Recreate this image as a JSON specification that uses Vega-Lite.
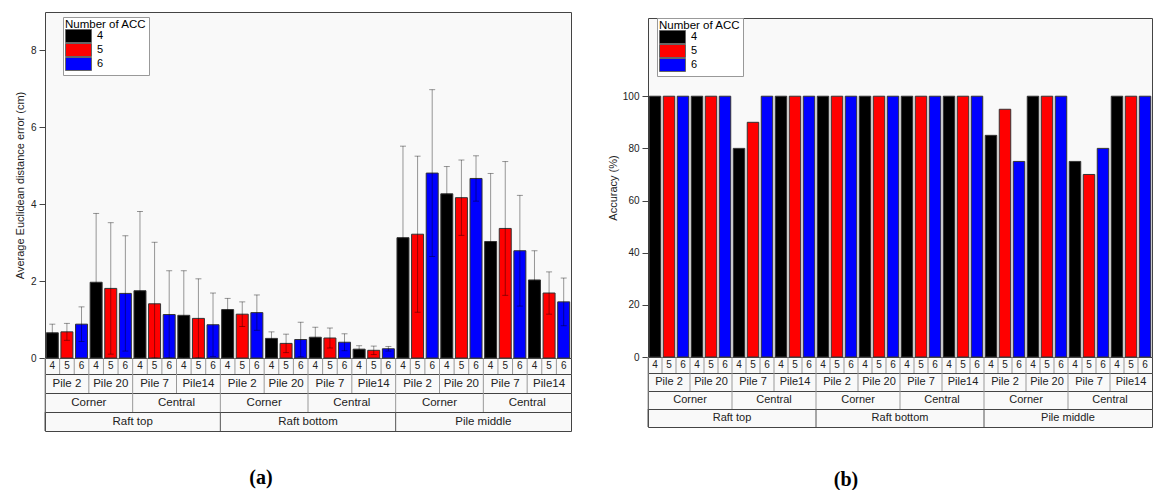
{
  "$schema": "https://vega.github.io/schema/vega-lite/v6.json",
  "padding": {"left": 13, "top": 9, "right": 0, "bottom": 0},
  "background": "#ffffff",
  "datasets": {
    "a": [
      {"n": 1, "group": "Raft top", "pos": "Corner", "pile": "Pile 2", "acc": 4, "mean": 0.655, "sd": 0.225},
      {"n": 2, "group": "Raft top", "pos": "Corner", "pile": "Pile 2", "acc": 5, "mean": 0.68, "sd": 0.22},
      {"n": 3, "group": "Raft top", "pos": "Corner", "pile": "Pile 2", "acc": 6, "mean": 0.88, "sd": 0.45},
      {"n": 4, "group": "Raft top", "pos": "Corner", "pile": "Pile 20", "acc": 4, "mean": 1.97, "sd": 1.79},
      {"n": 5, "group": "Raft top", "pos": "Corner", "pile": "Pile 20", "acc": 5, "mean": 1.81, "sd": 1.71},
      {"n": 6, "group": "Raft top", "pos": "Corner", "pile": "Pile 20", "acc": 6, "mean": 1.68, "sd": 1.5},
      {"n": 7, "group": "Raft top", "pos": "Central", "pile": "Pile 7", "acc": 4, "mean": 1.75, "sd": 2.06},
      {"n": 8, "group": "Raft top", "pos": "Central", "pile": "Pile 7", "acc": 5, "mean": 1.41, "sd": 1.6},
      {"n": 9, "group": "Raft top", "pos": "Central", "pile": "Pile 7", "acc": 6, "mean": 1.13, "sd": 1.14},
      {"n": 10, "group": "Raft top", "pos": "Central", "pile": "Pile14", "acc": 4, "mean": 1.11, "sd": 1.16},
      {"n": 11, "group": "Raft top", "pos": "Central", "pile": "Pile14", "acc": 5, "mean": 1.03, "sd": 1.03},
      {"n": 12, "group": "Raft top", "pos": "Central", "pile": "Pile14", "acc": 6, "mean": 0.865, "sd": 0.825},
      {"n": 13, "group": "Raft bottom", "pos": "Corner", "pile": "Pile 2", "acc": 4, "mean": 1.26, "sd": 0.29},
      {"n": 14, "group": "Raft bottom", "pos": "Corner", "pile": "Pile 2", "acc": 5, "mean": 1.14, "sd": 0.32},
      {"n": 15, "group": "Raft bottom", "pos": "Corner", "pile": "Pile 2", "acc": 6, "mean": 1.18, "sd": 0.46},
      {"n": 16, "group": "Raft bottom", "pos": "Corner", "pile": "Pile 20", "acc": 4, "mean": 0.51, "sd": 0.17},
      {"n": 17, "group": "Raft bottom", "pos": "Corner", "pile": "Pile 20", "acc": 5, "mean": 0.38, "sd": 0.24},
      {"n": 18, "group": "Raft bottom", "pos": "Corner", "pile": "Pile 20", "acc": 6, "mean": 0.48, "sd": 0.45},
      {"n": 19, "group": "Raft bottom", "pos": "Central", "pile": "Pile 7", "acc": 4, "mean": 0.54, "sd": 0.26},
      {"n": 20, "group": "Raft bottom", "pos": "Central", "pile": "Pile 7", "acc": 5, "mean": 0.52, "sd": 0.26},
      {"n": 21, "group": "Raft bottom", "pos": "Central", "pile": "Pile 7", "acc": 6, "mean": 0.41, "sd": 0.22},
      {"n": 22, "group": "Raft bottom", "pos": "Central", "pile": "Pile14", "acc": 4, "mean": 0.23, "sd": 0.09},
      {"n": 23, "group": "Raft bottom", "pos": "Central", "pile": "Pile14", "acc": 5, "mean": 0.2, "sd": 0.11},
      {"n": 24, "group": "Raft bottom", "pos": "Central", "pile": "Pile14", "acc": 6, "mean": 0.24, "sd": 0.06},
      {"n": 25, "group": "Pile middle", "pos": "Corner", "pile": "Pile 2", "acc": 4, "mean": 3.13, "sd": 2.38},
      {"n": 26, "group": "Pile middle", "pos": "Corner", "pile": "Pile 2", "acc": 5, "mean": 3.22, "sd": 2.03},
      {"n": 27, "group": "Pile middle", "pos": "Corner", "pile": "Pile 2", "acc": 6, "mean": 4.81, "sd": 2.17},
      {"n": 28, "group": "Pile middle", "pos": "Corner", "pile": "Pile 20", "acc": 4, "mean": 4.27, "sd": 0.71},
      {"n": 29, "group": "Pile middle", "pos": "Corner", "pile": "Pile 20", "acc": 5, "mean": 4.17, "sd": 0.98},
      {"n": 30, "group": "Pile middle", "pos": "Corner", "pile": "Pile 20", "acc": 6, "mean": 4.67, "sd": 0.59},
      {"n": 31, "group": "Pile middle", "pos": "Central", "pile": "Pile 7", "acc": 4, "mean": 3.03, "sd": 1.77},
      {"n": 32, "group": "Pile middle", "pos": "Central", "pile": "Pile 7", "acc": 5, "mean": 3.37, "sd": 1.74},
      {"n": 33, "group": "Pile middle", "pos": "Central", "pile": "Pile 7", "acc": 6, "mean": 2.79, "sd": 1.44},
      {"n": 34, "group": "Pile middle", "pos": "Central", "pile": "Pile14", "acc": 4, "mean": 2.03, "sd": 0.76},
      {"n": 35, "group": "Pile middle", "pos": "Central", "pile": "Pile14", "acc": 5, "mean": 1.69, "sd": 0.55},
      {"n": 36, "group": "Pile middle", "pos": "Central", "pile": "Pile14", "acc": 6, "mean": 1.46, "sd": 0.62}
    ],
    "b": [
      {"n": 1, "group": "Raft top", "pos": "Corner", "pile": "Pile 2", "acc": 4, "accuracy": 100},
      {"n": 2, "group": "Raft top", "pos": "Corner", "pile": "Pile 2", "acc": 5, "accuracy": 100},
      {"n": 3, "group": "Raft top", "pos": "Corner", "pile": "Pile 2", "acc": 6, "accuracy": 100},
      {"n": 4, "group": "Raft top", "pos": "Corner", "pile": "Pile 20", "acc": 4, "accuracy": 100},
      {"n": 5, "group": "Raft top", "pos": "Corner", "pile": "Pile 20", "acc": 5, "accuracy": 100},
      {"n": 6, "group": "Raft top", "pos": "Corner", "pile": "Pile 20", "acc": 6, "accuracy": 100},
      {"n": 7, "group": "Raft top", "pos": "Central", "pile": "Pile 7", "acc": 4, "accuracy": 80},
      {"n": 8, "group": "Raft top", "pos": "Central", "pile": "Pile 7", "acc": 5, "accuracy": 90},
      {"n": 9, "group": "Raft top", "pos": "Central", "pile": "Pile 7", "acc": 6, "accuracy": 100},
      {"n": 10, "group": "Raft top", "pos": "Central", "pile": "Pile14", "acc": 4, "accuracy": 100},
      {"n": 11, "group": "Raft top", "pos": "Central", "pile": "Pile14", "acc": 5, "accuracy": 100},
      {"n": 12, "group": "Raft top", "pos": "Central", "pile": "Pile14", "acc": 6, "accuracy": 100},
      {"n": 13, "group": "Raft bottom", "pos": "Corner", "pile": "Pile 2", "acc": 4, "accuracy": 100},
      {"n": 14, "group": "Raft bottom", "pos": "Corner", "pile": "Pile 2", "acc": 5, "accuracy": 100},
      {"n": 15, "group": "Raft bottom", "pos": "Corner", "pile": "Pile 2", "acc": 6, "accuracy": 100},
      {"n": 16, "group": "Raft bottom", "pos": "Corner", "pile": "Pile 20", "acc": 4, "accuracy": 100},
      {"n": 17, "group": "Raft bottom", "pos": "Corner", "pile": "Pile 20", "acc": 5, "accuracy": 100},
      {"n": 18, "group": "Raft bottom", "pos": "Corner", "pile": "Pile 20", "acc": 6, "accuracy": 100},
      {"n": 19, "group": "Raft bottom", "pos": "Central", "pile": "Pile 7", "acc": 4, "accuracy": 100},
      {"n": 20, "group": "Raft bottom", "pos": "Central", "pile": "Pile 7", "acc": 5, "accuracy": 100},
      {"n": 21, "group": "Raft bottom", "pos": "Central", "pile": "Pile 7", "acc": 6, "accuracy": 100},
      {"n": 22, "group": "Raft bottom", "pos": "Central", "pile": "Pile14", "acc": 4, "accuracy": 100},
      {"n": 23, "group": "Raft bottom", "pos": "Central", "pile": "Pile14", "acc": 5, "accuracy": 100},
      {"n": 24, "group": "Raft bottom", "pos": "Central", "pile": "Pile14", "acc": 6, "accuracy": 100},
      {"n": 25, "group": "Pile middle", "pos": "Corner", "pile": "Pile 2", "acc": 4, "accuracy": 85},
      {"n": 26, "group": "Pile middle", "pos": "Corner", "pile": "Pile 2", "acc": 5, "accuracy": 95},
      {"n": 27, "group": "Pile middle", "pos": "Corner", "pile": "Pile 2", "acc": 6, "accuracy": 75},
      {"n": 28, "group": "Pile middle", "pos": "Corner", "pile": "Pile 20", "acc": 4, "accuracy": 100},
      {"n": 29, "group": "Pile middle", "pos": "Corner", "pile": "Pile 20", "acc": 5, "accuracy": 100},
      {"n": 30, "group": "Pile middle", "pos": "Corner", "pile": "Pile 20", "acc": 6, "accuracy": 100},
      {"n": 31, "group": "Pile middle", "pos": "Central", "pile": "Pile 7", "acc": 4, "accuracy": 75},
      {"n": 32, "group": "Pile middle", "pos": "Central", "pile": "Pile 7", "acc": 5, "accuracy": 70},
      {"n": 33, "group": "Pile middle", "pos": "Central", "pile": "Pile 7", "acc": 6, "accuracy": 80},
      {"n": 34, "group": "Pile middle", "pos": "Central", "pile": "Pile14", "acc": 4, "accuracy": 100},
      {"n": 35, "group": "Pile middle", "pos": "Central", "pile": "Pile14", "acc": 5, "accuracy": 100},
      {"n": 36, "group": "Pile middle", "pos": "Central", "pile": "Pile14", "acc": 6, "accuracy": 100}
    ]
  },
  "hconcat": [
    {
      "spacing": 0,
      "bounds": "flush",
      "resolve": {"scale": {"x": "shared"}},
      "vconcat": [
        {
          "width": 526, "height": 346,
          "data": {"name": "a"},
          "encoding": {
            "x": {"field": "n", "type": "ordinal", "axis": null, "scale": {"paddingInner": 0, "paddingOuter": 0}},
            "y": {"field": "mean", "type": "quantitative", "stack": null,
                  "scale": {"domain": [0, 9], "nice": false, "clamp": true},
                  "axis": {"title": "Average Euclidean distance error (cm)", "values": [0, 2, 4, 6, 8], "grid": false, "domain": false,
                           "tickSize": 6, "tickColor": "#444", "labelFontSize": 10, "labelColor": "#222", "labelPadding": 3,
                           "titleFontSize": 11, "titleFontWeight": "normal", "titleColor": "#222", "titlePadding": 5}}
          },
          "layer": [
            {
              "mark": {"type": "bar", "width": {"band": 0.82}, "stroke": "#333", "strokeWidth": 1},
              "encoding": {
                "color": {"field": "acc", "type": "nominal",
                          "scale": {"domain": [4, 5, 6], "range": ["#000000", "#ff0000", "#0000ff"]},
                          "legend": {"title": "Number of ACC", "orient": "none", "legendX": 18, "legendY": 5,
                                     "symbolType": "M-1,-1.3H4.2V1.3H-1Z", "symbolSize": 100, "symbolStrokeColor": "#666", "symbolStrokeWidth": 1,
                                     "symbolOpacity": 1, "labelOffset": 21, "rowPadding": -5, "padding": 2, "strokeColor": "#999",
                                     "fillColor": "#ffffff", "titleFontSize": 11.5, "titleFontWeight": "normal", "titleColor": "#000",
                                     "labelFontSize": 11, "labelColor": "#000", "titlePadding": 0}}
              }
            },
            {
              "mark": {"type": "errorbar", "ticks": true, "size": 6, "thickness": 1, "color": "#000", "opacity": 0.4},
              "encoding": {"yError": {"field": "sd"}}
            }
          ]
        },
        {
          "width": 526, "height": 16, "data": {"name": "a"},
          "layer": [
            {"mark": {"type": "rule", "color": "#999", "strokeWidth": 1},
             "encoding": {"x": {"field": "n", "type": "ordinal", "bandPosition": 0, "axis": null}}},
            {"mark": {"type": "text", "fontSize": 10, "color": "#222"},
             "encoding": {"x": {"field": "n", "type": "ordinal", "axis": null}, "text": {"field": "acc", "type": "nominal"}}}
          ]
        },
        {
          "width": 526, "height": 19, "data": {"name": "a"},
          "layer": [
            {"transform": [{"filter": "datum.acc == 4"}],
             "mark": {"type": "rule", "color": "#999", "strokeWidth": 1},
             "encoding": {"x": {"field": "n", "type": "ordinal", "bandPosition": 0, "axis": null}}},
            {"transform": [{"filter": "datum.acc == 5"}],
             "mark": {"type": "text", "fontSize": 11.5, "color": "#222"},
             "encoding": {"x": {"field": "n", "type": "ordinal", "axis": null}, "text": {"field": "pile", "type": "nominal"}}}
          ]
        },
        {
          "width": 526, "height": 19, "data": {"name": "a"},
          "layer": [
            {"transform": [{"filter": "datum.acc == 4 && (datum.pile == 'Pile 2' || datum.pile == 'Pile 7')"}],
             "mark": {"type": "rule", "color": "#999", "strokeWidth": 1},
             "encoding": {"x": {"field": "n", "type": "ordinal", "bandPosition": 0, "axis": null}}},
            {"transform": [{"filter": "datum.acc == 4 && (datum.pile == 'Pile 20' || datum.pile == 'Pile14')"}],
             "mark": {"type": "text", "fontSize": 11.5, "color": "#222"},
             "encoding": {"x": {"field": "n", "type": "ordinal", "bandPosition": 0, "axis": null}, "text": {"field": "pos", "type": "nominal"}}}
          ]
        },
        {
          "width": 526, "height": 19, "data": {"name": "a"},
          "title": {"text": "(a)", "orient": "bottom", "offset": 36, "fontSize": 20, "font": "Liberation Serif", "fontWeight": "bold", "color": "#000", "dx": -47, "anchor": "middle"},
          "layer": [
            {"transform": [{"filter": "datum.acc == 4 && datum.pile == 'Pile 2'"}],
             "mark": {"type": "rule", "color": "#555", "strokeWidth": 1},
             "encoding": {"x": {"field": "n", "type": "ordinal", "bandPosition": 0, "axis": null}}},
            {"transform": [{"filter": "datum.acc == 4 && datum.pile == 'Pile 7'"}],
             "mark": {"type": "text", "fontSize": 11.5, "color": "#222"},
             "encoding": {"x": {"field": "n", "type": "ordinal", "bandPosition": 0, "axis": null}, "text": {"field": "group", "type": "nominal"}}}
          ]
        }
      ]
    },
    {
      "spacing": 0,
      "bounds": "flush",
      "resolve": {"scale": {"x": "shared"}},
      "vconcat": [
        {
          "width": 504, "height": 6,
          "view": {"stroke": null, "fill": null},
          "data": {"values": [{}]},
          "mark": {"type": "text"},
          "encoding": {"text": {"value": ""}}
        },
        {
          "width": 504, "height": 339,
          "data": {"name": "b"},
          "encoding": {
            "x": {"field": "n", "type": "ordinal", "axis": null, "scale": {"paddingInner": 0, "paddingOuter": 0}},
            "y": {"field": "accuracy", "type": "quantitative", "stack": null,
                  "scale": {"domain": [0, 130], "nice": false},
                  "axis": {"title": "Accuracy (%)", "values": [0, 20, 40, 60, 80, 100], "grid": false, "domain": false,
                           "tickSize": 6, "tickColor": "#444", "labelFontSize": 10, "labelColor": "#222", "labelPadding": 3,
                           "titleFontSize": 11, "titleFontWeight": "normal", "titleColor": "#222", "titlePadding": 4}}
          },
          "layer": [
            {
              "mark": {"type": "bar", "width": {"band": 0.82}, "stroke": "#333", "strokeWidth": 1},
              "encoding": {
                "color": {"field": "acc", "type": "nominal",
                          "scale": {"domain": [4, 5, 6], "range": ["#000000", "#ff0000", "#0000ff"]},
                          "legend": {"title": "Number of ACC", "orient": "none", "legendX": 9, "legendY": 6,
                                     "symbolType": "M-1,-1.3H4.2V1.3H-1Z", "symbolSize": 100, "symbolStrokeColor": "#666", "symbolStrokeWidth": 1,
                                     "symbolOpacity": 1, "labelOffset": 21, "rowPadding": -5, "padding": 2, "strokeColor": "#999",
                                     "fillColor": "#ffffff", "titleFontSize": 11.5, "titleFontWeight": "normal", "titleColor": "#000",
                                     "labelFontSize": 11, "labelColor": "#000", "titlePadding": 0}}
              }
            }
          ]
        },
        {
          "width": 504, "height": 16, "data": {"name": "b"},
          "layer": [
            {"mark": {"type": "rule", "color": "#999", "strokeWidth": 1},
             "encoding": {"x": {"field": "n", "type": "ordinal", "bandPosition": 0, "axis": null}}},
            {"mark": {"type": "text", "fontSize": 10, "color": "#222"},
             "encoding": {"x": {"field": "n", "type": "ordinal", "axis": null}, "text": {"field": "acc", "type": "nominal"}}}
          ]
        },
        {
          "width": 504, "height": 18, "data": {"name": "b"},
          "layer": [
            {"transform": [{"filter": "datum.acc == 4"}],
             "mark": {"type": "rule", "color": "#999", "strokeWidth": 1},
             "encoding": {"x": {"field": "n", "type": "ordinal", "bandPosition": 0, "axis": null}}},
            {"transform": [{"filter": "datum.acc == 5"}],
             "mark": {"type": "text", "fontSize": 11, "color": "#222"},
             "encoding": {"x": {"field": "n", "type": "ordinal", "axis": null}, "text": {"field": "pile", "type": "nominal"}}}
          ]
        },
        {
          "width": 504, "height": 18, "data": {"name": "b"},
          "layer": [
            {"transform": [{"filter": "datum.acc == 4 && (datum.pile == 'Pile 2' || datum.pile == 'Pile 7')"}],
             "mark": {"type": "rule", "color": "#999", "strokeWidth": 1},
             "encoding": {"x": {"field": "n", "type": "ordinal", "bandPosition": 0, "axis": null}}},
            {"transform": [{"filter": "datum.acc == 4 && (datum.pile == 'Pile 20' || datum.pile == 'Pile14')"}],
             "mark": {"type": "text", "fontSize": 11, "color": "#222"},
             "encoding": {"x": {"field": "n", "type": "ordinal", "bandPosition": 0, "axis": null}, "text": {"field": "pos", "type": "nominal"}}}
          ]
        },
        {
          "width": 504, "height": 18, "data": {"name": "b"},
          "title": {"text": "(b)", "orient": "bottom", "offset": 42, "fontSize": 20, "font": "Liberation Serif", "fontWeight": "bold", "color": "#000", "dx": -54, "anchor": "middle"},
          "layer": [
            {"transform": [{"filter": "datum.acc == 4 && datum.pile == 'Pile 2'"}],
             "mark": {"type": "rule", "color": "#555", "strokeWidth": 1},
             "encoding": {"x": {"field": "n", "type": "ordinal", "bandPosition": 0, "axis": null}}},
            {"transform": [{"filter": "datum.acc == 4 && datum.pile == 'Pile 7'"}],
             "mark": {"type": "text", "fontSize": 11, "color": "#222"},
             "encoding": {"x": {"field": "n", "type": "ordinal", "bandPosition": 0, "axis": null}, "text": {"field": "group", "type": "nominal"}}}
          ]
        }
      ]
    }
  ],
  "spacing": 34,
  "resolve": {"scale": {"x": "independent", "y": "independent", "color": "independent"}, "legend": {"color": "independent"}},
  "config": {
    "font": "Liberation Sans",
    "view": {"stroke": "#444", "strokeWidth": 1, "fill": "#f9f9f9"},
    "scale": {"bandPaddingInner": 0, "bandPaddingOuter": 0, "barBandPaddingInner": 0}
  }
}
